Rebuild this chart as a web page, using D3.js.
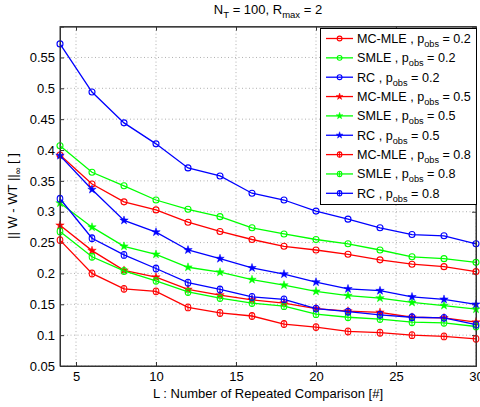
<!DOCTYPE html>
<html><head><meta charset="utf-8">
<script src="https://cdn.jsdelivr.net/npm/d3@7"></script>
<style>body{margin:0;background:#fff}svg{display:block;font-family:"Liberation Sans",Arial,sans-serif}</style>
</head><body><svg id="c" width="480" height="407"></svg>
<script>
const L = [4,6,8,10,12,14,16,18,20,22,24,26,28,30];
const mcmle02 = [0.392,0.345,0.316,0.303,0.283,0.268,0.255,0.244,0.238,0.231,0.222,0.215,0.211,0.203];
const smle02  = [0.407,0.364,0.342,0.319,0.304,0.292,0.274,0.264,0.255,0.248,0.238,0.227,0.224,0.218];
const rc02    = [0.572,0.494,0.444,0.410,0.371,0.358,0.330,0.319,0.301,0.288,0.274,0.263,0.261,0.248];
const mcmle05 = [0.278,0.237,0.205,0.194,0.174,0.165,0.157,0.152,0.143,0.139,0.137,0.129,0.128,0.121];
const smle05  = [0.314,0.275,0.244,0.231,0.210,0.202,0.190,0.181,0.171,0.164,0.160,0.153,0.148,0.142];
const rc05    = [0.391,0.336,0.286,0.267,0.238,0.224,0.209,0.199,0.186,0.175,0.172,0.162,0.158,0.150];
const mcmle08 = [0.254,0.200,0.175,0.171,0.145,0.136,0.131,0.118,0.113,0.106,0.104,0.100,0.098,0.094];
const smle08  = [0.268,0.227,0.204,0.188,0.170,0.160,0.152,0.147,0.134,0.129,0.126,0.121,0.120,0.114];
const rc08    = [0.321,0.257,0.230,0.208,0.185,0.174,0.162,0.158,0.143,0.138,0.133,0.129,0.128,0.117];
const xTicks = [5,10,15,20,25,30];
const yTicks = [0.05,0.1,0.15,0.2,0.25,0.3,0.35,0.4,0.45,0.5,0.55];
const series = [
  {method:"MC-MLE", p:"0.2", values:mcmle02, color:"#ff0000", marker:"o"},
  {method:"SMLE", p:"0.2", values:smle02, color:"#00ff00", marker:"o"},
  {method:"RC", p:"0.2", values:rc02, color:"#0000ff", marker:"o"},
  {method:"MC-MLE", p:"0.5", values:mcmle05, color:"#ff0000", marker:"*"},
  {method:"SMLE", p:"0.5", values:smle05, color:"#00ff00", marker:"*"},
  {method:"RC", p:"0.5", values:rc05, color:"#0000ff", marker:"*"},
  {method:"MC-MLE", p:"0.8", values:mcmle08, color:"#ff0000", marker:"d"},
  {method:"SMLE", p:"0.8", values:smle08, color:"#00ff00", marker:"d"},
  {method:"RC", p:"0.8", values:rc08, color:"#0000ff", marker:"d"}
];

const svg = d3.select("#c");
const m = {l:60, r:476, t:26.6, b:366};
const x = d3.scaleLinear().domain([4,30]).range([m.l, m.r]);
const y = d3.scaleLinear().domain([0.05,0.6]).range([m.b, m.t]);

const g = svg.append("g");
g.selectAll(".gx").data(xTicks).enter().append("line")
  .attr("x1",d=>x(d)).attr("x2",d=>x(d)).attr("y1",m.t).attr("y2",m.b)
  .attr("stroke","#b0b0b0").attr("stroke-width",1).attr("stroke-dasharray","1,2.5");
g.selectAll(".gy").data(yTicks).enter().append("line")
  .attr("y1",d=>y(d)).attr("y2",d=>y(d)).attr("x1",m.l).attr("x2",m.r)
  .attr("stroke","#b0b0b0").attr("stroke-width",1).attr("stroke-dasharray","1,2.5");

svg.append("g").attr("transform",`translate(0,${m.b})`)
  .call(d3.axisBottom(x).tickValues(xTicks).tickSize(-4).tickPadding(6).tickFormat(d3.format("d")));
svg.append("g").attr("transform",`translate(${m.l},0)`)
  .call(d3.axisLeft(y).tickValues(yTicks).tickSize(-4).tickPadding(5).tickFormat(d=>String(+d.toFixed(2))));
svg.append("g").attr("transform",`translate(0,${m.t})`)
  .call(d3.axisTop(x).tickValues(xTicks).tickSize(-4).tickFormat(""));
svg.append("g").attr("transform",`translate(${m.r},0)`)
  .call(d3.axisRight(y).tickValues(yTicks).tickSize(-4).tickFormat(""));
svg.selectAll(".domain").attr("stroke","#333");
svg.selectAll(".tick line").attr("stroke","#333");
svg.selectAll(".tick text").attr("font-size",13).attr("fill","#000").attr("font-family","Liberation Sans, Arial, sans-serif");

function drawMarker(sel, type, color, cx, cy, k){
  k = k || 1;
  if(type==="o"){
    sel.append("circle").attr("cx",cx).attr("cy",cy).attr("r",3*k)
      .attr("fill","none").attr("stroke",color).attr("stroke-width",1.1);
  } else if(type==="*"){
    sel.append("path").attr("d",d3.symbol(d3.symbolStar,22*k*k)())
      .attr("transform",`translate(${cx},${cy})`).attr("fill",color).attr("stroke",color).attr("stroke-width",0.5);
  } else {
    sel.append("ellipse").attr("cx",cx).attr("cy",cy).attr("rx",2.8*k).attr("ry",3.4*k)
      .attr("fill","none").attr("stroke",color).attr("stroke-width",1.1);
    sel.append("line").attr("x1",cx).attr("x2",cx).attr("y1",cy-3.4*k).attr("y2",cy+3.4*k)
      .attr("stroke",color).attr("stroke-width",1);
  }
}

const plot = svg.append("g");
const line = d3.line().x((d,i)=>x(L[i])).y(d=>y(d));
series.forEach(s=>{
  plot.append("path").datum(s.values).attr("d",line)
    .attr("fill","none").attr("stroke",s.color).attr("stroke-width",1.3);
  s.values.forEach((v,i)=>drawMarker(plot,s.marker,s.color,x(L[i]),y(v)));
});

svg.append("rect").attr("x",m.l).attr("y",m.t).attr("width",m.r-m.l).attr("height",m.b-m.t)
  .attr("fill","none").attr("stroke","#333").attr("stroke-width",1);

const lg = svg.append("g");
lg.append("rect").attr("x",320.5).attr("y",28.5).attr("width",156).attr("height",176)
  .attr("fill","#fff").attr("stroke","#000").attr("stroke-width",1);
series.forEach((s,i)=>{
  const yy = 38.5 + i*19.35;
  lg.append("line").attr("x1",326).attr("x2",353).attr("y1",yy).attr("y2",yy)
    .attr("stroke",s.color).attr("stroke-width",1.3);
  drawMarker(lg,s.marker,s.color,339.6,yy,0.8);
  const t = lg.append("text").attr("x",357).attr("y",yy+4.5).attr("font-size",12.6).attr("fill","#000");
  t.append("tspan").text(s.method+" , p");
  t.append("tspan").attr("font-size",9.2).attr("dy",4).text("obs");
  t.append("tspan").attr("dy",-4).text(" = "+s.p);
});

const tt = svg.append("text").attr("x",268).attr("y",14).attr("text-anchor","middle").attr("font-size",13);
tt.append("tspan").text("N");
tt.append("tspan").attr("font-size",9.5).attr("dy",4).text("T");
tt.append("tspan").attr("dy",-4).text(" = 100, R");
tt.append("tspan").attr("font-size",9.5).attr("dy",4).text("max");
tt.append("tspan").attr("dy",-4).text(" = 2");

svg.append("text").attr("x",268).attr("y",398).attr("text-anchor","middle").attr("font-size",13)
  .text("L : Number of Repeated Comparison [#]");

const yl = svg.append("text").attr("transform",`translate(17,196) rotate(-90)`).attr("text-anchor","middle").attr("font-size",13);
yl.append("tspan").text("|| W - WT ||");
yl.append("tspan").attr("font-size",9.5).attr("dy",4).text("\u221E");
yl.append("tspan").attr("dy",-4).text(" [ ]");
</script></body></html>
